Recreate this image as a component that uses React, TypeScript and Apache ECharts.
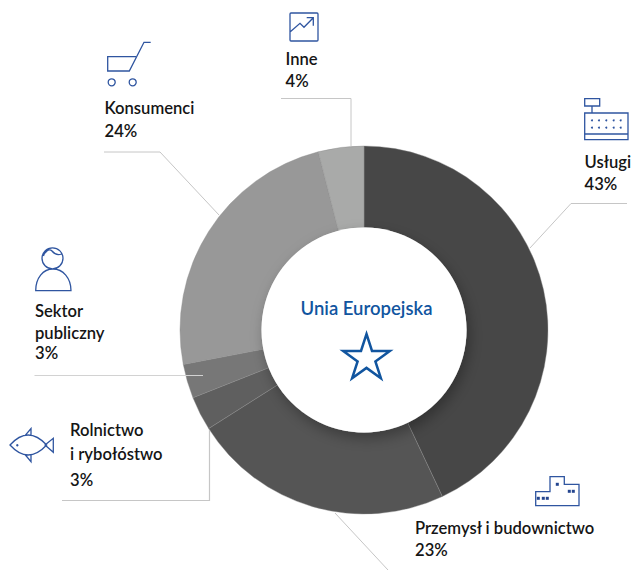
import React, { useEffect, useRef } from "react";
import * as echarts from "echarts";

const categories = ["Usługi", "Przemysł i budownictwo", "Rolnictwo\ni rybołóstwo", "Sektor\npubliczny", "Konsumenci", "Inne"];
const shares = [43, 23, 3, 3, 24, 4];
const sliceColors = ["#474747", "#555555", "#5f5f5f", "#777777", "#989898", "#a9aaa9"];
const centerTitle = "Unia Europejska";

const FONT = "Lato";
const BLUE = "#2f55a0";
const LEADER = "#c6c6c6";

const labelBoxes = [
  { x: 584.5, ys: [161, 183] },
  { x: 415, ys: [527, 549] },
  { x: 70, ys: [429, 453, 479] },
  { x: 35, ys: [310, 332, 352] },
  { x: 104.5, ys: [107, 130] },
  { x: 285.5, ys: [58, 80] },
];

const leaders = [
  [[627, 203.5], [571, 203.5], [530, 248]],
  [[335, 513], [388, 570]],
  [[62, 500.5], [209.5, 500.5], [209.5, 430]],
  [[34.5, 375.5], [203, 375.5]],
  [[104, 152], [160, 152], [219, 215]],
  [[281, 98.5], [351, 98.5], [351, 146]],
];

const icons: Record<string, string> = {
  iconInne:
    "M291 13H317Q318 13 318 14V40Q318 41 317 41H291Q290 41 290 40V14Q290 13 291 13Z M290 32L300 23.3L304 27.3L313.3 17.7 M306.7 17.7H313.3V25.7",
  iconCart:
    "M136 56.7H107.7V71H129.3L144 42.3H150.7 M115.2 82.3A3.5 3.5 0 1 1 108.2 82.3A3.5 3.5 0 1 1 115.2 82.3Z M136.2 82.3A3.5 3.5 0 1 1 129.2 82.3A3.5 3.5 0 1 1 136.2 82.3Z",
  iconPerson:
    "M63 258.3A10.5 10.5 0 1 1 42 258.3A10.5 10.5 0 1 1 63 258.3Z M45 253Q49 248 52 251Q56 256 61.5 254 M43.5 256Q45 250 49 249.5 M35.7 290.7C35.7 278 43 269 53 269C63 269 71 278 71 290.7Z",
  iconFish:
    "M10 445Q28 425 46.7 445Q28 465 10 445Z M45 445L53.3 438.3V452.3Z M25 435.7L31 428.5V435.5 M25 454.5L31 461.7V454.5",
  iconFactory:
    "M535.7 491.7H550V476.7H564.3V484.3H579V505.7H535.7Z",
  iconRegister:
    "M584.7 98.7H599.7V106H584.7Z M592 106V113 M584.7 113H628V139.7H584.7Z M584.7 134H628",
};

const iconDots: number[][] = [
  [17.3, 445.3],
  [592, 120.3], [599, 120.3], [606.3, 120.3], [613.7, 120.3], [620.7, 120.3],
  [592, 127.7], [599, 127.7], [606.3, 127.7], [613.7, 127.7], [620.7, 127.7],
];
const factoryWindows: number[][] = [
  [538.3, 498.3], [543.3, 498.3], [547.3, 498.3], [557.3, 484.3], [569.3, 491.3], [573.3, 491.3],
];

const starPoints = [
  [366.5, 334], [372, 350.9], [389.8, 350.9], [375.4, 361.4], [380.9, 378.3],
  [366.5, 367.9], [352.1, 378.3], [357.6, 361.4], [343.2, 350.9], [361, 350.9],
];

Object.entries(icons).forEach(([name, d]) => {
  echarts.graphic.registerShape(name, echarts.graphic.extendPath(d, {}) as any);
});

export default function App() {
  const ref = useRef<HTMLDivElement>(null);
  useEffect(() => {
    const chart = echarts.init(ref.current!, null, { renderer: "svg" });
    const graphics: any[] = [];

    graphics.push({
      type: "circle",
      z: 5,
      silent: true,
      shape: { cx: 364, cy: 330, r: 102.5 },
      style: {
        fill: "#ffffff",
        shadowColor: "rgba(0,0,0,0.3)",
        shadowBlur: 14,
        shadowOffsetX: 3,
        shadowOffsetY: 6,
      },
    });

    leaders.forEach((points, i) => {
      graphics.push({
        type: "polyline", z: 6, silent: true,
        shape: { points },
        style: { stroke: i === 3 ? "#d2d2d2" : LEADER, lineWidth: i === 2 || i === 3 ? 1.2 : 1, fill: "none" },
      });
    });

    categories.forEach((name, i) => {
      const lines = [...name.split("\n"), `${shares[i]}%`];
      lines.forEach((text, j) => {
        graphics.push({
          type: "text", z: 7, silent: true,
          x: labelBoxes[i].x, y: labelBoxes[i].ys[j],
          scaleX: 0.95,
          style: {
            text, fill: "#151515", font: `600 17.5px ${FONT}`,
            textAlign: "left", textVerticalAlign: "middle",
          },
        });
      });
    });

    Object.keys(icons).forEach((name) => {
      graphics.push({
        type: name, z: 7, silent: true,
        style: { stroke: BLUE, lineWidth: 1.3, fill: "none" },
      });
    });
    iconDots.forEach(([cx, cy], i) => {
      graphics.push({
        type: "circle", z: 7, silent: true,
        shape: { cx, cy, r: i === 0 ? 1.2 : 1 },
        style: { fill: BLUE },
      });
    });
    factoryWindows.forEach(([x, y]) => {
      graphics.push({
        type: "rect", z: 7, silent: true,
        shape: { x: x - 1.5, y: y - 1.5, width: 3, height: 3 },
        style: { fill: "#24458f" },
      });
    });

    graphics.push({
      type: "text", z: 7, silent: true,
      x: 366.5, y: 308,
      style: {
        text: centerTitle, fill: "#11559f", font: `600 18.5px ${FONT}`,
        textAlign: "center", textVerticalAlign: "middle",
      },
    });
    graphics.push({
      type: "polygon", z: 7, silent: true,
      shape: { points: starPoints },
      style: { fill: "#fff", stroke: "#11559f", lineWidth: 2.5, lineJoin: "miter", miterLimit: 10 },
    });

    chart.setOption({
      animation: false,
      backgroundColor: "#ffffff",
      graphic: graphics,
      series: [
        {
          type: "pie",
          silent: true,
          center: [364, 330],
          radius: [102.5, 184],
          startAngle: 90,
          clockwise: true,
          label: { show: false },
          labelLine: { show: false },
          itemStyle: { borderColor: "#8c8c8c", borderWidth: 0.4 },
          data: categories.map((name, i) => ({
            name,
            value: shares[i],
            itemStyle: { color: sliceColors[i] },
          })),
        },
      ],
    });
    return () => chart.dispose();
  }, []);
  return <div ref={ref} style={{ position: "fixed", left: 0, top: 0, width: 634, height: 570 }} />;
}
